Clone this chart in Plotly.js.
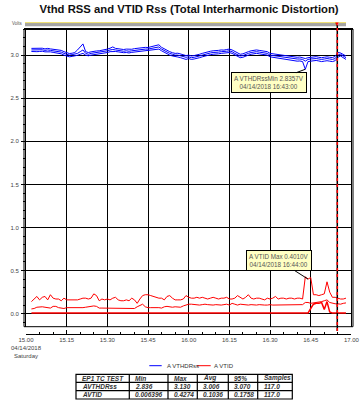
<!DOCTYPE html>
<html><head><meta charset="utf-8">
<script src="https://cdn.plot.ly/plotly-3.0.1.min.js"></script>
<style>html,body{margin:0;padding:0;background:#fff}#chart{width:364px;height:417px}</style>
</head><body><div id="chart"></div>
<script>
// ---- DATA (1-minute samples, 15:02 .. 16:58, 117 samples) ----
const firstMinute = 2; // minutes after 15:00
const sampleCount = 117;

const vthdMax = [
 3.078,3.080,3.075,3.078,3.080,3.072,3.078,3.072,3.068,3.062,
 3.060,3.055,3.040,3.028,3.018,3.022,3.030,3.060,3.100,3.130,
 3.040,3.030,3.038,3.045,3.048,3.050,3.055,3.058,3.070,3.080,
 3.095,3.078,3.072,3.068,3.065,3.070,3.065,3.068,3.075,3.080,
 3.078,3.085,3.090,3.088,3.095,3.100,3.110,3.120,3.090,3.070,
 3.050,3.040,3.028,3.020,3.022,3.010,3.000,2.995,3.000,2.990,
 2.995,3.000,3.010,3.020,3.030,3.040,3.045,3.050,3.050,3.055,
 3.060,3.058,3.065,3.070,3.060,3.040,3.020,3.010,3.015,3.030,
 3.040,3.050,3.055,3.060,3.055,3.050,3.045,3.040,3.020,3.015,
 3.010,3.005,3.000,2.995,2.990,2.985,2.980,2.982,2.975,2.978,
 2.970,2.960,2.970,2.975,2.980,2.982,2.975,2.970,2.975,2.980,
 2.975,2.972,2.985,3.030,3.025,3.005,2.990];
const vthdAvg = [
 3.060,3.062,3.058,3.060,3.062,3.055,3.060,3.055,3.050,3.045,
 3.040,3.035,3.020,3.010,3.000,3.005,3.010,3.020,3.040,3.060,
 3.020,3.010,3.020,3.025,3.030,3.030,3.035,3.040,3.050,3.060,
 3.065,3.060,3.055,3.050,3.045,3.050,3.045,3.050,3.055,3.060,
 3.060,3.065,3.070,3.070,3.075,3.080,3.090,3.095,3.070,3.050,
 3.030,3.020,3.010,3.000,3.000,2.990,2.980,2.975,2.980,2.970,
 2.975,2.980,2.990,3.000,3.010,3.020,3.025,3.030,3.030,3.035,
 3.040,3.040,3.045,3.050,3.040,3.020,3.000,2.990,2.995,3.010,
 3.020,3.030,3.035,3.040,3.035,3.030,3.025,3.020,3.000,2.995,
 2.990,2.985,2.980,2.975,2.970,2.965,2.960,2.960,2.955,2.955,
 2.950,2.930,2.950,2.955,2.960,2.960,2.955,2.950,2.955,2.960,
 2.955,2.950,2.960,3.000,3.010,2.985,2.970];
const vthdMin = [
 3.042,3.045,3.040,3.042,3.045,3.038,3.042,3.038,3.032,3.028,
 3.022,3.015,3.000,2.990,2.980,2.985,2.990,2.998,3.010,3.020,
 3.000,2.992,3.000,3.005,3.010,3.012,3.015,3.020,3.030,3.040,
 3.045,3.042,3.038,3.032,3.028,3.030,3.025,3.032,3.035,3.040,
 3.042,3.045,3.050,3.052,3.055,3.060,3.065,3.070,3.050,3.030,
 3.010,3.000,2.990,2.980,2.978,2.970,2.960,2.950,2.960,2.950,
 2.955,2.960,2.970,2.980,2.990,3.000,3.005,3.010,3.010,3.015,
 3.020,3.022,3.025,3.030,3.020,3.000,2.980,2.970,2.975,2.990,
 3.000,3.010,3.015,3.020,3.015,3.010,3.005,3.000,2.980,2.975,
 2.970,2.962,2.958,2.952,2.948,2.942,2.938,2.935,2.930,2.932,
 2.925,2.8357,2.925,2.930,2.935,2.938,2.932,2.925,2.930,2.935,
 2.930,2.925,2.935,2.975,2.990,2.965,2.950];
const vtidMax = [
 0.14,0.17,0.20,0.16,0.19,0.20,0.16,0.22,0.18,0.17,
 0.17,0.15,0.18,0.16,0.16,0.16,0.16,0.16,0.17,0.18,
 0.18,0.17,0.18,0.23,0.21,0.15,0.17,0.16,0.17,0.16,
 0.18,0.19,0.16,0.15,0.15,0.16,0.15,0.18,0.16,0.12,
 0.17,0.21,0.22,0.22,0.21,0.20,0.19,0.18,0.18,0.16,
 0.20,0.21,0.18,0.16,0.16,0.16,0.17,0.21,0.19,0.18,
 0.18,0.19,0.18,0.19,0.18,0.17,0.18,0.19,0.18,0.17,
 0.18,0.18,0.19,0.17,0.17,0.18,0.21,0.19,0.17,0.19,
 0.22,0.18,0.17,0.18,0.18,0.17,0.16,0.18,0.17,0.18,
 0.20,0.17,0.18,0.18,0.17,0.18,0.18,0.17,0.18,0.18,
 0.17,0.4274,0.4010,0.42,0.22,0.22,0.21,0.22,0.23,0.37,
 0.25,0.19,0.19,0.18,0.17,0.17,0.18];
const vtidAvg = [
 0.055,0.060,0.075,0.080,0.080,0.075,0.070,0.065,0.085,0.085,
 0.070,0.065,0.060,0.070,0.070,0.070,0.070,0.065,0.070,0.070,
 0.075,0.080,0.085,0.090,0.085,0.065,0.065,0.065,0.060,0.065,
 0.065,0.060,0.065,0.065,0.060,0.065,0.065,0.065,0.060,0.080,
 0.100,0.110,0.080,0.070,0.070,0.070,0.075,0.070,0.065,0.080,
 0.085,0.080,0.075,0.080,0.080,0.075,0.090,0.100,0.110,0.110,
 0.105,0.100,0.100,0.105,0.110,0.105,0.100,0.100,0.105,0.100,
 0.100,0.105,0.110,0.100,0.120,0.110,0.100,0.110,0.105,0.100,
 0.100,0.105,0.100,0.100,0.105,0.100,0.100,0.100,0.105,0.100,
 0.100,0.100,0.100,0.105,0.100,0.100,0.100,0.105,0.100,0.100,
 0.105,0.130,0.130,0.120,0.125,0.130,0.130,0.140,0.150,0.160,
 0.130,0.120,0.115,0.115,0.110,0.120,0.125];
const vtidMin = [
 0.0070,0.0068,0.0072,0.0066,0.0070,0.0069,0.0071,0.0067,0.0070,0.0068,
 0.0069,0.0071,0.0068,0.0070,0.0067,0.0069,0.0070,0.0068,0.0071,0.0069,
 0.0070,0.0068,0.0069,0.0071,0.0067,0.0070,0.0068,0.0069,0.0070,0.0068,
 0.0071,0.0069,0.0070,0.0067,0.0068,0.0070,0.0069,0.0071,0.0068,0.0070,
 0.0069,0.0068,0.0070,0.0071,0.0067,0.0069,0.0070,0.0068,0.0069,0.0071,
 0.0070,0.0068,0.0069,0.0070,0.0067,0.0071,0.0069,0.0068,0.0070,0.0069,
 0.0068,0.0070,0.0071,0.0069,0.0067,0.0070,0.0068,0.0069,0.0070,0.0071,
 0.0069,0.0068,0.0070,0.0067,0.0069,0.0071,0.0070,0.0068,0.0069,0.0070,
 0.0071,0.0068,0.0069,0.0070,0.0067,0.0069,0.0070,0.0068,0.0071,0.0069,
 0.0070,0.0068,0.0069,0.0071,0.0067,0.0070,0.0069,0.0068,0.0070,0.0069,
 0.0068,0.0066,0.0070,0.060,0.110,0.120,0.120,0.130,0.050,0.140,
 0.020,0.0070,0.0068,0.0066,0.006396,0.0070,0.0068];

const xTickVals = ['15:00','15:15','15:30','15:45','16:00','16:15','16:30','16:45','17:00'];
const xTickText = ['15.00<br>04/14/2018<br>Saturday','15.15','15.30','15.45','16.00','16.15','16.30','16.45','17.00'];

const legendNames = ['A VTHDRss','A VTID'];
const tableHeader = ['EP1 TC TEST','Min','Max','Avg','95%','Samples'];
const tableRowNames = ['AVTHDRss','AVTID'];
const statsVTHD = ['2.836','3.130','3.006','3.070','117.0'];
const statsVTID = ['0.006396','0.4274','0.1036','0.1758','117.0'];

const cursorTime = '16:54:48';
const minCallout = {time:'16:43:00', label:'A VTHDRssMin 2.8357V<br>04/14/2018 16:43:00'};
const maxCallout = {time:'16:44:00', label:'A VTID Max 0.4010V<br>04/14/2018 16:44:00'};

// ---- BUILD ----
const day = '2018-04-14 ';
function minuteToTime(m){
  const h = 15 + Math.floor(m/60), mm = m % 60;
  return day + h + ':' + String(mm).padStart(2,'0') + ':00';
}
const times = [];
for (let i = 0; i < sampleCount; i++) times.push(minuteToTime(firstMinute + i));
function valueAt(series, t){ return series[times.indexOf(day + t)]; }

const W = 364, H = 417;
const px = v => v / W, py = v => 1 - v / H;

const BLUE = '#0000ff', RED = '#ff0000';
const traces = [];
[vthdMax, vthdAvg, vthdMin].forEach(s => traces.push({x: times, y: s, type:'scatter', mode:'lines',
  line:{color:BLUE, width:1}, showlegend:false, hoverinfo:'skip'}));
[vtidMax, vtidAvg, vtidMin].forEach((s,k) => traces.push({x: times, y: s, type:'scatter', mode:'lines',
  line:{color:RED, width: k===2 ? 1.5 : 1}, showlegend:false, hoverinfo:'skip'}));

const tickFont = {family:'Liberation Sans, Arial, sans-serif', size:6, color:'#444'};
const shapes = [];
const annotations = [];

// plot frame
shapes.push({type:'rect', xref:'paper', yref:'paper', x0:px(24), x1:px(353), y0:py(326.7), y1:py(29), line:{color:'#000', width:1}});
shapes.push({type:'line', xref:'paper', yref:'paper', x0:px(24), x1:px(353), y0:py(29), y1:py(29), line:{color:'#000', width:2}});
// top time bar
shapes.push({type:'rect', xref:'paper', yref:'paper', x0:px(25), x1:px(346), y0:py(26.3), y1:py(23), line:{width:0}, fillcolor:'#a4a4a4'});
shapes.push({type:'line', xref:'paper', yref:'paper', x0:px(25), x1:px(346), y0:py(22.6), y1:py(22.6), line:{color:'#eedd66', width:1}});
// cursor line
shapes.push({type:'line', xref:'x', yref:'paper', x0:day+cursorTime, x1:day+cursorTime, y0:py(331), y1:py(25), line:{color:'#000', width:1.5}});
shapes.push({type:'line', xref:'x', yref:'paper', x0:day+cursorTime, x1:day+cursorTime, y0:py(331), y1:py(25), line:{color:RED, width:1.5, dash:'3px,3px'}});
annotations.push({xref:'x', yref:'paper', x:day+cursorTime, y:py(24.5), text:'▼', showarrow:false, font:{size:6, color:RED}, xanchor:'center', yanchor:'middle'});

// Volts label
annotations.push({xref:'paper', yref:'paper', x:px(25), y:py(23.5), text:'Volts', showarrow:false, xanchor:'right', yanchor:'middle', font:{family:'Liberation Sans, Arial', size:4.5, color:'#555'}});

// callouts
const calloutFont = {family:'Liberation Sans, Arial, sans-serif', size:6.3, color:'#555'};
annotations.push({xref:'x', yref:'y', x:day+minCallout.time, y:valueAt(vthdMin, minCallout.time), text:minCallout.label,
  showarrow:true, arrowhead:0, arrowwidth:1, arrowcolor:'#000', ax:-36, ay:13.5, bgcolor:'#ffffc4', bordercolor:'#000', borderwidth:1, borderpad:2,
  font:calloutFont, align:'center'});
annotations.push({xref:'x', yref:'y', x:day+maxCallout.time, y:valueAt(vtidMax, maxCallout.time), text:maxCallout.label,
  showarrow:true, arrowhead:0, arrowwidth:1, arrowcolor:'#000', ax:-29, ay:-18.6, bgcolor:'#ffffc4', bordercolor:'#000', borderwidth:1, borderpad:2,
  font:calloutFont, align:'center'});

// legend
const legFont = {family:'Liberation Sans, Arial, sans-serif', size:6, color:'#333'};
shapes.push({type:'line', xref:'paper', yref:'paper', x0:px(149.3), x1:px(161.7), y0:py(365.7), y1:py(365.7), line:{color:BLUE, width:1}});
annotations.push({xref:'paper', yref:'paper', x:px(164.5), y:py(365.7), text:legendNames[0], showarrow:false, xanchor:'left', yanchor:'middle', font:legFont});
shapes.push({type:'line', xref:'paper', yref:'paper', x0:px(196.7), x1:px(210.7), y0:py(365.7), y1:py(365.7), line:{color:RED, width:1}});
annotations.push({xref:'paper', yref:'paper', x:px(212), y:py(365.7), text:legendNames[1], showarrow:false, xanchor:'left', yanchor:'middle', font:legFont});

// table
const colEdges = [76, 129.3, 168, 197.3, 228.3, 257.7, 292.3];
const rowEdges = [374.3, 382.3, 390.7, 399];
shapes.push({type:'rect', xref:'paper', yref:'paper', x0:px(colEdges[0]), x1:px(colEdges[6]), y0:py(rowEdges[3]), y1:py(rowEdges[0]), line:{color:'#000', width:1.2}});
colEdges.slice(1,-1).forEach(c => shapes.push({type:'line', xref:'paper', yref:'paper', x0:px(c), x1:px(c), y0:py(rowEdges[3]), y1:py(rowEdges[0]), line:{color:'#000', width:1.2}}));
rowEdges.slice(1,-1).forEach(r => shapes.push({type:'line', xref:'paper', yref:'paper', x0:px(colEdges[0]), x1:px(colEdges[6]), y0:py(r), y1:py(r), line:{color:'#000', width:1.2}}));
const tableRows = [tableHeader, [tableRowNames[0]].concat(statsVTHD), [tableRowNames[1]].concat(statsVTID)];
const cellFont = {family:'Liberation Sans, Arial, sans-serif', size:6.5, color:'#333', weight:'bold', style:'italic'};
tableRows.forEach((row, r) => row.forEach((txt, c) => {
  annotations.push({xref:'paper', yref:'paper', x:px(colEdges[c] + 4), y:py((rowEdges[r] + rowEdges[r+1]) / 2), text:txt,
    showarrow:false, xanchor:'left', yanchor:'middle', font:cellFont});
}));

const layout = {
  width: W, height: H,
  margin: {l:0, r:0, t:0, b:0, pad:0},
  paper_bgcolor:'#fff', plot_bgcolor:'#fff',
  showlegend:false,
  title: {text:'Vthd RSS and VTID Rss (Total Interharmonic Distortion)', x:px(189), xanchor:'center', xref:'paper',
    y: py(9.3), yref:'container', yanchor:'middle',
    font:{family:'Liberation Sans, Arial, sans-serif', size:11.3, color:'#111', weight:'bold'}},
  xaxis: {
    type:'date', domain:[px(26), px(351.4)], range:[day+'15:00:00', day+'17:00:00'],
    anchor:'free', position: py(334),
    tickvals: xTickVals.map(t => day + t + ':00'), ticktext: xTickText,
    tickfont: tickFont, ticks:'inside', ticklen:4, tickcolor:'#000',
    showline:true, linecolor:'#000', linewidth:1,
    showgrid:true, gridcolor:'#000', gridwidth:1, zeroline:false,
    minor:{dtick:300000, ticks:'inside', ticklen:2, tickcolor:'#000', showgrid:false}
  },
  yaxis: {
    domain:[py(326.7), py(29)], range:[-0.151, 3.303],
    tick0:0, dtick:0.5, tickformat:'.1f', tickfont: tickFont,
    ticks:'outside', ticklen:4, tickcolor:'#000', ticklabelstandoff:1,
    showline:true, mirror:true, linecolor:'#000', linewidth:1,
    showgrid:true, gridcolor:'#000', gridwidth:1, zeroline:false,
    minor:{dtick:0.1, ticks:'outside', ticklen:2, tickcolor:'#000', showgrid:false}
  },
  shapes, annotations
};
Plotly.newPlot('chart', traces, layout, {staticPlot:true, displayModeBar:false});
</script></body></html>
